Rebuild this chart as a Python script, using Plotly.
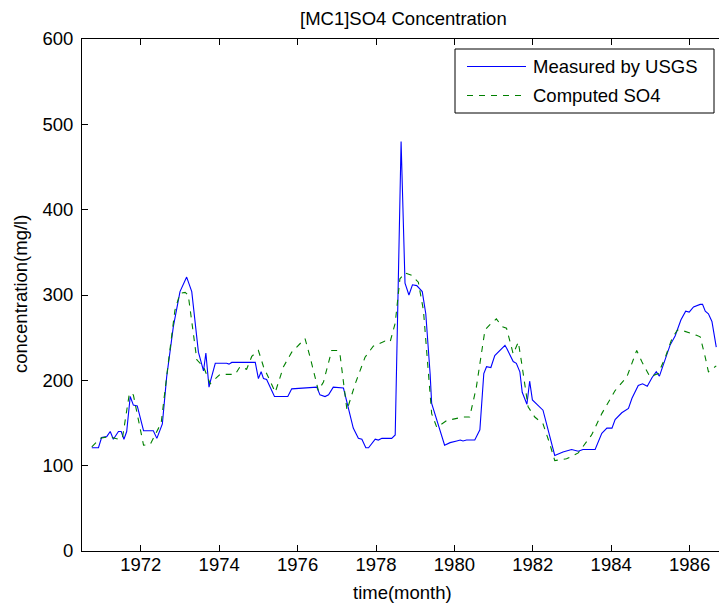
import plotly.graph_objects as go

# ---------------- data ----------------
measured_t = [1970.75, 1970.92, 1971.00, 1971.13, 1971.22, 1971.30, 1971.43, 1971.50, 1971.57, 1971.64,
              1971.73, 1971.81, 1971.91, 1972.07, 1972.32, 1972.41, 1972.55, 1972.66, 1972.83, 1973.00,
              1973.17, 1973.30, 1973.47, 1973.60, 1973.66, 1973.74, 1973.77, 1973.90, 1974.19, 1974.25,
              1974.32, 1974.92, 1975.00, 1975.07, 1975.13, 1975.21, 1975.41, 1975.75, 1975.85, 1976.49,
              1976.57, 1976.70, 1976.79, 1976.91, 1977.17, 1977.30, 1977.42, 1977.55, 1977.64, 1977.74,
              1977.81, 1977.98, 1978.06, 1978.15, 1978.40, 1978.49, 1978.64, 1978.74, 1978.84, 1978.93,
              1979.04, 1979.18, 1979.27, 1979.38, 1979.42, 1979.75, 1979.89, 1980.06, 1980.15, 1980.22,
              1980.31, 1980.52, 1980.65, 1980.75, 1980.82, 1980.93, 1981.03, 1981.29, 1981.34, 1981.50,
              1981.58, 1981.67, 1981.73, 1981.85, 1981.92, 1981.99, 1982.26, 1982.56, 1982.77, 1982.99,
              1983.16, 1983.28, 1983.59, 1983.76, 1983.89, 1984.02, 1984.10, 1984.27, 1984.44, 1984.53,
              1984.69, 1984.80, 1984.92, 1985.04, 1985.15, 1985.23, 1985.33, 1985.50, 1985.63, 1985.78,
              1985.90, 1985.99, 1986.10, 1986.27, 1986.33, 1986.40, 1986.48, 1986.57, 1986.68]
measured_v = [121, 121, 133, 134, 140, 131, 140, 140, 131, 140,
              181, 171, 170, 141, 141, 132, 149, 204, 263, 304,
              321, 304, 233, 211, 232, 192, 198, 220, 220, 219,
              221, 221, 202, 210, 202, 201, 181, 181, 190, 192,
              183, 181, 183, 192, 191, 165, 144, 132, 131, 121,
              121, 131, 130, 132, 132, 136, 480, 314, 300, 312,
              311, 304, 278, 208, 173, 124, 127, 129, 130, 129,
              130, 130, 142, 208, 216, 215, 229, 241, 237, 222,
              220, 210, 186, 172, 199, 177, 165, 112, 116, 119,
              117, 119, 119, 138, 144, 144, 154, 162, 167, 179,
              194, 196, 193, 203, 210, 205, 218, 241, 252, 271,
              281, 280, 286, 289, 289, 281, 278, 269, 239]

computed_t = [1970.75, 1970.96, 1971.17, 1971.43, 1971.53, 1971.71, 1971.81, 1972.07, 1972.24, 1972.52,
              1972.70, 1972.87, 1973.00, 1973.13, 1973.21, 1973.43, 1973.60, 1973.77, 1974.02, 1974.41,
              1974.53, 1974.70, 1974.83, 1975.00, 1975.13, 1975.43, 1975.64, 1975.85, 1976.19, 1976.32,
              1976.53, 1976.66, 1976.87, 1977.02, 1977.08, 1977.26, 1977.47, 1977.72, 1977.93, 1978.23,
              1978.36, 1978.49, 1978.61, 1978.74, 1978.91, 1979.08, 1979.21, 1979.42, 1979.55, 1979.81,
              1980.22, 1980.39, 1980.56, 1980.78, 1980.90, 1981.07, 1981.22, 1981.33, 1981.50, 1981.63,
              1981.71, 1981.88, 1982.05, 1982.26, 1982.43, 1982.56, 1982.86, 1983.16, 1983.50, 1983.76,
              1984.10, 1984.40, 1984.65, 1984.78, 1984.99, 1985.20, 1985.38, 1985.55, 1985.69, 1985.84,
              1986.16, 1986.27, 1986.40, 1986.48, 1986.68]
computed_v = [122, 132, 134, 131, 132, 185, 183, 124, 125, 150,
              220, 282, 302, 303, 300, 224, 216, 196, 207, 207,
              216, 213, 228, 235, 216, 186, 216, 233, 249, 227,
              188, 198, 235, 235, 231, 165, 196, 227, 240, 246,
              245, 267, 319, 326, 323, 315, 282, 161, 145, 153,
              157, 157, 192, 259, 265, 272, 263, 261, 231, 245,
              222, 169, 157, 149, 126, 106, 108, 115, 136, 161,
              188, 204, 235, 222, 204, 208, 227, 249, 259, 258,
              253, 251, 227, 210, 217]

x_tick_vals = [1972, 1974, 1976, 1978, 1980, 1982, 1984, 1986]
x_tick_text = ["1972", "1974", "1976", "1978", "1980", "1982", "1984", "1986"]
y_tick_vals = [0, 100, 200, 300, 400, 500, 600]

series_names = ["Measured by USGS", "Computed SO4"]
title_text = "[MC1]SO4 Concentration"
x_title = "time(month)"
y_title = "concentration(mg/l)"

# ---------------- layout geometry ----------------
W, H = 719, 607
L, R, T, B = 82, 0, 39, 56
PW, PH = W - L - R, H - T - B


def px(x):
    return (x - L) / PW


def py(y):
    return (H - B - y) / PH


FONT = dict(family="Liberation Sans, Arial, sans-serif", size=18.5, color="black")
BLUE = "#0000ff"
GREEN = "#008000"
DASH = "6px,6px"

fig = go.Figure()
fig.add_trace(go.Scatter(x=measured_t, y=measured_v, mode="lines", name=series_names[0],
                         line=dict(color=BLUE, width=1.1), showlegend=False))
fig.add_trace(go.Scatter(x=computed_t, y=computed_v, mode="lines", name=series_names[1],
                         line=dict(color=GREEN, width=1.1, dash=DASH), showlegend=False))

# manual MATLAB-style legend
shapes = [
    dict(type="rect", xref="paper", yref="paper", x0=px(455), x1=px(714), y0=py(113), y1=py(49),
         line=dict(color="black", width=1), fillcolor="white", layer="above"),
    dict(type="line", xref="paper", yref="paper", x0=px(467), x1=px(526), y0=py(66.5), y1=py(66.5),
         line=dict(color=BLUE, width=1.1), layer="above"),
    dict(type="line", xref="paper", yref="paper", x0=px(467), x1=px(526), y0=py(95.5), y1=py(95.5),
         line=dict(color=GREEN, width=1.1, dash=DASH), layer="above"),
]
annotations = [
    dict(text=series_names[0], xref="paper", yref="paper", x=px(531), y=py(66.5),
         xanchor="left", yanchor="middle", showarrow=False, font=FONT),
    dict(text=series_names[1], xref="paper", yref="paper", x=px(531), y=py(95.5),
         xanchor="left", yanchor="middle", showarrow=False, font=FONT),
    dict(text=title_text, xref="paper", yref="paper", x=px(403), y=py(18),
         xanchor="center", yanchor="middle", showarrow=False, font=FONT),
    dict(text=x_title, xref="paper", yref="paper", x=px(402), y=py(592),
         xanchor="center", yanchor="middle", showarrow=False, font=FONT),
    dict(text=y_title, xref="paper", yref="paper", x=px(20), y=py(294),
         xanchor="center", yanchor="middle", showarrow=False, font=FONT, textangle=-90),
]

fig.update_layout(
    width=W, height=H,
    margin=dict(l=L, r=R, t=T, b=B, pad=0),
    paper_bgcolor="white", plot_bgcolor="white",
    font=FONT,
    shapes=shapes, annotations=annotations,
    showlegend=False,
)
fig.update_xaxes(range=[1970.5, 1986.75], tickvals=x_tick_vals, ticktext=x_tick_text,
                 ticks="inside", ticklen=6, tickcolor="black", tickwidth=1,
                 showline=True, linecolor="black", linewidth=1, mirror="ticks",
                 showgrid=False, zeroline=False, ticklabelstandoff=-3, tickfont=FONT)
fig.update_yaxes(range=[0, 600], tickvals=y_tick_vals,
                 ticks="inside", ticklen=6, tickcolor="black", tickwidth=1,
                 showline=True, linecolor="black", linewidth=1, mirror=False,
                 showgrid=False, zeroline=False, ticklabelstandoff=4, tickfont=FONT)

fig.write_html("out.html")
